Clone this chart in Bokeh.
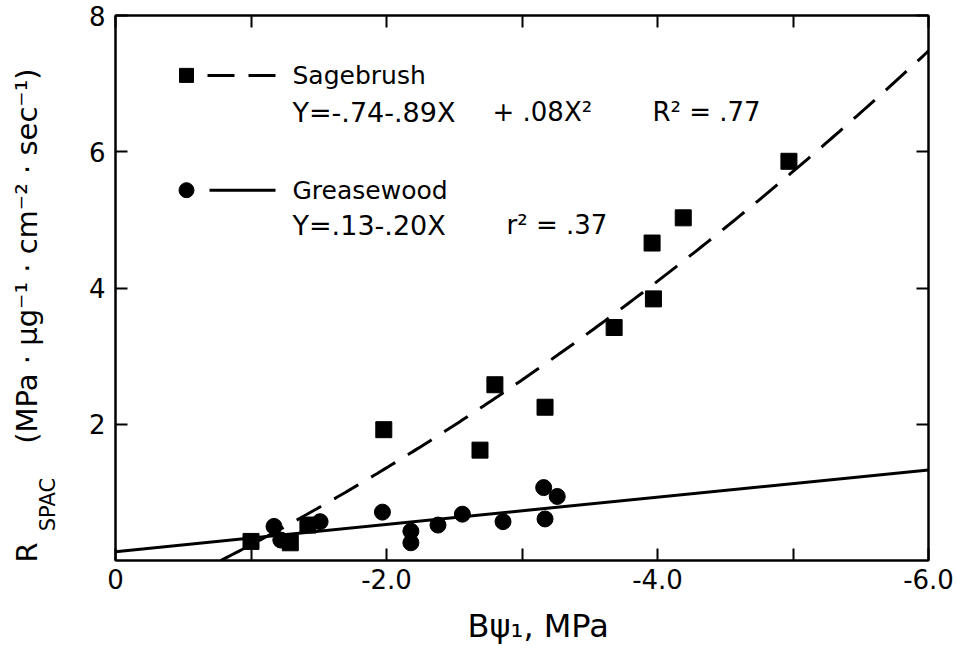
import numpy as np
from bokeh.plotting import figure
from bokeh.models import Range1d, FixedTicker, Label, LinearAxis, CustomJSTickFormatter, Title
from bokeh.embed import file_html
from bokeh.resources import INLINE

# ---- data ----
sage_x = [-1.00, -1.29, -1.42, -1.98, -2.69, -2.80, -3.17, -3.68, -3.97, -3.96, -4.19, -4.97]
sage_y = [0.28, 0.26, 0.52, 1.92, 1.62, 2.58, 2.25, 3.42, 3.84, 4.66, 5.03, 5.86]
grease_x = [-1.17, -1.22, -1.51, -1.97, -2.18, -2.18, -2.38, -2.56, -2.86, -3.16, -3.26, -3.17]
grease_y = [0.50, 0.30, 0.57, 0.71, 0.43, 0.26, 0.52, 0.68, 0.57, 1.07, 0.94, 0.61]
sage_coef = [-0.74, -0.89, 0.08]     # Y = a + bX + cX^2
grease_coef = [0.13, -0.20]          # Y = a + bX
x_major = [0, -2, -4, -6]
x_minor = [-1, -3, -5]
y_major = [2, 4, 6, 8]

# ---- geometry of the frame in pixels (for annotation placement) ----
L, R, T, B = 115, 928, 15, 561
X0, X1, Y0, Y1 = 0.0, -6.0, 0.0, 8.0
def dx(px):
    return X0 + (px - L) * (X1 - X0) / (R - L)
def dy(py):
    return Y0 + (B - py) * (Y1 - Y0) / (B - T)

FONT = "DejaVu Sans"

p = figure(width=956, height=657, x_range=Range1d(X0, X1), y_range=Range1d(Y0, Y1),
           output_backend="svg", toolbar_location=None,
           min_border_left=L, min_border_right=956 - R, min_border_top=T, min_border_bottom=657 - B)
p.background_fill_color = "white"
p.border_fill_color = "white"
p.grid.visible = False
p.outline_line_color = "black"
p.outline_line_width = 2

fmt = CustomJSTickFormatter(code="return tick == 0 ? '0' : tick.toFixed(1);")
blank = CustomJSTickFormatter(code="return '';")
xa = p.xaxis[0]
xa.ticker = FixedTicker(ticks=x_major, minor_ticks=x_minor)
xa.formatter = fmt
ya = p.yaxis[0]
ya.ticker = FixedTicker(ticks=y_major)
for ax in (xa, ya):
    ax.major_tick_in = 12
    ax.major_tick_out = 0
    ax.minor_tick_in = 12
    ax.minor_tick_out = 0
    ax.axis_line_width = 2
    ax.major_tick_line_width = 2
    ax.minor_tick_line_width = 2
    ax.major_label_text_font = FONT
    ax.major_label_text_font_size = "26px"
    ax.major_label_text_color = "black"
    ax.major_label_standoff = 8
ya.major_label_standoff = 10

top = LinearAxis(ticker=FixedTicker(ticks=x_major, minor_ticks=x_minor), formatter=blank)
right = LinearAxis(ticker=FixedTicker(ticks=y_major), formatter=blank)
for ax in (top, right):
    ax.major_tick_in = 12
    ax.major_tick_out = 0
    ax.minor_tick_in = 12
    ax.minor_tick_out = 0
    ax.axis_line_width = 2
    ax.major_tick_line_width = 2
    ax.minor_tick_line_width = 2
    ax.major_label_standoff = 0
    ax.major_label_text_font_size = "1px"
p.add_layout(top, "above")
p.add_layout(right, "right")

# ---- y-axis title: R with subscript SPAC and units, built from label-only axes ----
def label_axis(ticks, code, size, standoff):
    ax = LinearAxis(ticker=FixedTicker(ticks=ticks), formatter=CustomJSTickFormatter(code=code),
                    major_label_orientation="vertical", major_label_standoff=standoff,
                    major_label_text_font=FONT, major_label_text_font_size=size,
                    major_label_text_color="black")
    ax.major_tick_line_color = None
    ax.minor_tick_line_color = None
    ax.axis_line_color = None
    ax.major_tick_out = 0
    ax.major_tick_in = 0
    return ax

sub_axis = label_axis([dy(505)], "return 'SPAC';", "21px", 25)
units = "(MPa \u00b7 \u03bcg\u207b\u00b9 \u00b7 cm\u207b\u00b2 \u00b7 sec\u207b\u00b9)"
main_axis = label_axis([dy(553), dy(256)],
                       "return tick < 1 ? 'R' : '" + units + "';", "29px", -11)
p.add_layout(sub_axis, "left")
p.add_layout(main_axis, "left")

# ---- x-axis title ----
p.add_layout(Title(text="B\u03c8\u2081, MPa", align="left", offset=352, standoff=26,
                   text_font=FONT, text_font_size="32px", text_font_style="normal",
                   text_color="black"), "below")

# ---- fitted curves ----
roots = np.roots(sage_coef[::-1])
x_start = max(r.real for r in roots if abs(r.imag) < 1e-9 and r.real <= 0)
xs = np.linspace(x_start, X1, 200)
ys = sage_coef[0] + sage_coef[1] * xs + sage_coef[2] * xs ** 2
p.line(xs, ys, line_color="black", line_width=3, line_dash="28 15")
xg = np.array([X0, X1])
yg = grease_coef[0] + grease_coef[1] * xg
p.line(xg, yg, line_color="black", line_width=3)

# ---- data points ----
p.scatter(sage_x, sage_y, marker="square", size=16, fill_color="black", line_color="black")
p.scatter(grease_x, grease_y, marker="circle", size=16, fill_color="black", line_color="black")

# ---- legend block ----
p.scatter([dx(186)], [dy(75)], marker="square", size=14, fill_color="black", line_color="black")
p.line([dx(207), dx(275)], [dy(75), dy(75)], line_color="black", line_width=3, line_dash="27 14")
p.scatter([dx(186)], [dy(190)], marker="circle", size=15, fill_color="black", line_color="black")
p.line([dx(209), dx(275)], [dy(190), dy(190)], line_color="black", line_width=3)

def txt(text, px, py, size="25px"):
    p.add_layout(Label(x=dx(px), y=dy(py), text=text, text_font=FONT, text_font_size=size,
                       text_color="black", text_align="left", text_baseline="middle"))

txt("Sagebrush", 292, 75)
txt("Y=-.74-.89X", 292, 112, size="27px")
txt("+ .08X\u00b2", 492, 112, size="26px")
txt("R\u00b2 = .77", 652, 112, size="26px")
txt("Greasewood", 292, 190)
txt("Y=.13-.20X", 292, 225, size="27px")
txt("r\u00b2 = .37", 506, 225, size="26px")

open("out.html", "w").write(file_html(p, INLINE))
